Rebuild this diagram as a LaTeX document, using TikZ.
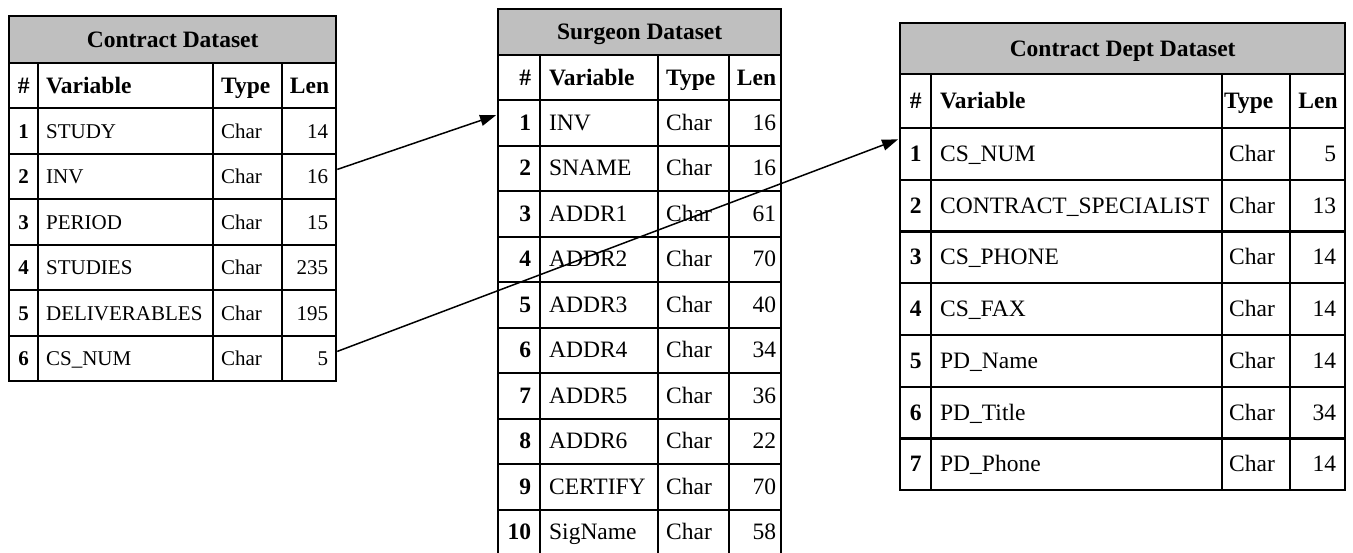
\documentclass[tikz,border=0pt]{standalone}
\usepackage{fontspec}
\setmainfont{Liberation Serif}
\usetikzlibrary{arrows.meta}

\begin{document}
\begin{tikzpicture}[x=1pt, y=-1pt,
    cell/.style={draw, line width=2.3pt, inner sep=0pt, anchor=north west, text height=15pt, text depth=0pt},
    ttl/.style={cell, fill=black!25, font=\fontsize{23.5}{28}\selectfont\bfseries},
    hd/.style={cell, font=\fontsize{23.5}{28}\selectfont\bfseries},
    big/.style={cell, font=\fontsize{23.5}{28}\selectfont},
    bigb/.style={cell, font=\fontsize{23.5}{28}\selectfont\bfseries},
    sm/.style={cell, font=\fontsize{21}{25}\selectfont},
    smb/.style={cell, font=\fontsize{21}{25}\selectfont\bfseries},
    link/.style={line width=1.5pt, shorten >=1pt, -{Triangle[length=16pt, width=11pt]}}
]
\useasboundingbox (0,0) rectangle (1353,552);

% Contract Dataset
\node[ttl, minimum width=327pt, minimum height=47pt] (cd) at (8,15) {Contract Dataset};
\node[hd, minimum width=29pt, minimum height=45pt] (cd-hn) at (8,62) {\#};
\node[hd, minimum width=175pt, minimum height=45pt, text width=159pt, align=left] (cd-hv) at (37,62) {Variable};
\node[hd, minimum width=69pt, minimum height=45pt, text width=53pt, align=left] (cd-ht) at (212,62) {Type};
\node[hd, minimum width=54pt, minimum height=45pt, text width=40pt, align=right] (cd-hl) at (281,62) {Len};
\foreach \var/\len [count=\i] in {STUDY/14, INV/16, PERIOD/15, STUDIES/235, DELIVERABLES/195, CS\_NUM/5} {
    \pgfmathsetmacro{\y}{107+45.5*(\i-1)}
    \node[smb, minimum width=29pt, minimum height=45.5pt] (cd-n\i) at (8,\y) {\i};
    \node[sm, minimum width=175pt, minimum height=45.5pt, text width=159pt, align=left] (cd-v\i) at (37,\y) {\var};
    \node[sm, minimum width=69pt, minimum height=45.5pt, text width=53pt, align=left] (cd-t\i) at (212,\y) {Char};
    \node[sm, minimum width=54pt, minimum height=45.5pt, text width=38pt, align=right] (cd-l\i) at (281,\y) {\len};
}

% Surgeon Dataset
\node[ttl, minimum width=283pt, minimum height=46pt] (sg) at (497,8) {Surgeon Dataset};
\node[hd, minimum width=42pt, minimum height=45pt, text width=24pt, align=right] (sg-hn) at (497,54) {\#};
\node[hd, minimum width=118pt, minimum height=45pt, text width=100pt, align=left] (sg-hv) at (539,54) {Variable};
\node[hd, minimum width=71pt, minimum height=45pt, text width=55pt, align=left] (sg-ht) at (657,54) {Type};
\node[hd, minimum width=52pt, minimum height=45pt, text width=42pt, align=right] (sg-hl) at (728,54) {Len};
\foreach \var/\len [count=\i] in {INV/16, SNAME/16, ADDR1/61, ADDR2/70, ADDR3/40, ADDR4/34, ADDR5/36, ADDR6/22, CERTIFY/70, SigName/58} {
    \pgfmathsetmacro{\y}{99+45.5*(\i-1)}
    \node[bigb, minimum width=42pt, minimum height=45.5pt, text width=24pt, align=right] (sg-n\i) at (497,\y) {\i};
    \node[big, minimum width=118pt, minimum height=45.5pt, text width=100pt, align=left] (sg-v\i) at (539,\y) {\var};
    \node[big, minimum width=71pt, minimum height=45.5pt, text width=55pt, align=left] (sg-t\i) at (657,\y) {Char};
    \node[big, minimum width=52pt, minimum height=45.5pt, text width=42pt, align=right] (sg-l\i) at (728,\y) {\len};
}

% Contract Dept Dataset
\node[ttl, minimum width=445pt, minimum height=51pt] (cdd) at (899,22) {Contract Dept Dataset};
\node[hd, minimum width=31pt, minimum height=54pt] (cdd-hn) at (899,73) {\#};
\node[hd, minimum width=291pt, minimum height=54pt, text width=273pt, align=left] (cdd-hv) at (930,73) {Variable};
\node[hd, minimum width=68pt, minimum height=54pt, text width=64pt, align=left] (cdd-ht) at (1221,73) {Type};
\node[hd, minimum width=55pt, minimum height=54pt, text width=40pt, align=right] (cdd-hl) at (1289,73) {Len};
\foreach \var/\len [count=\i] in {CS\_NUM/5, CONTRACT\_SPECIALIST/13, CS\_PHONE/14, CS\_FAX/14, PD\_Name/14, PD\_Title/34, PD\_Phone/14} {
    \pgfmathsetmacro{\y}{127+51.7*(\i-1)}
    \node[bigb, minimum width=31pt, minimum height=51.7pt] (cdd-n\i) at (899,\y) {\i};
    \node[big, minimum width=291pt, minimum height=51.7pt, text width=273pt, align=left] (cdd-v\i) at (930,\y) {\var};
    \node[big, minimum width=68pt, minimum height=51.7pt, text width=54pt, align=left] (cdd-t\i) at (1221,\y) {Char};
    \node[big, minimum width=55pt, minimum height=51.7pt, text width=37pt, align=right] (cdd-l\i) at (1289,\y) {\len};
}

% Links between the datasets
\draw[link] ([yshift=7pt]cd-l2.east) -- ([yshift=8pt]sg-n1.west);
\draw[link] ([yshift=7pt]cd-l6.east) -- ([yshift=15pt]cdd-n1.west);
\end{tikzpicture}
\end{document}
